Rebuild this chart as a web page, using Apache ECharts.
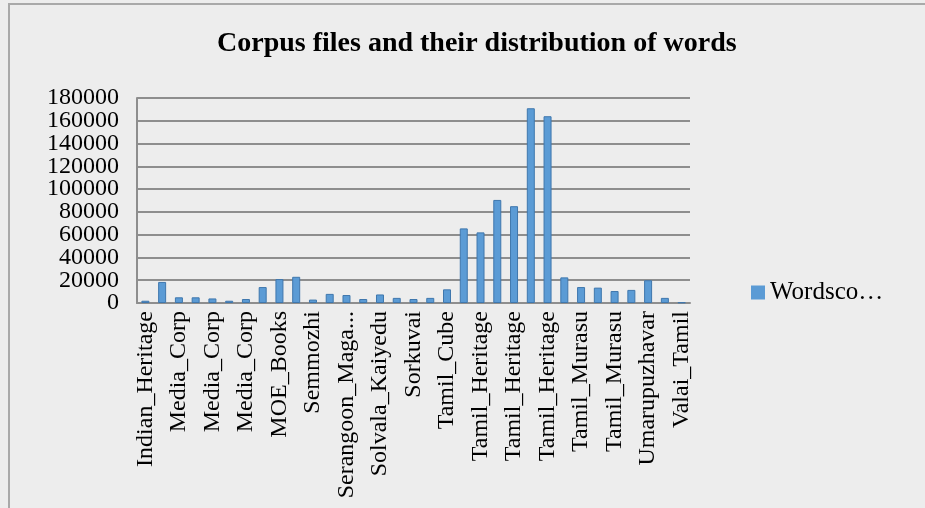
<!DOCTYPE html>
<html>
<head>
<meta charset="utf-8">
<title>Corpus files and their distribution of words</title>
<script src="https://cdn.jsdelivr.net/npm/echarts@6/dist/echarts.min.js"></script>
<style>
  html, body { margin: 0; padding: 0; background: #ededed; }
  #chart { width: 925px; height: 508px; }
  .frame {
    position: absolute; left: 8px; top: 3px; right: 0; bottom: 0;
    border-left: 2px solid #a9a9a9; border-top: 2px solid #a9a9a9;
    pointer-events: none;
  }
</style>
</head>
<body>
<div id="chart"></div>
<div class="frame"></div>
<script>
const titleText = 'Corpus files and their distribution of words'
const seriesName = 'Wordscount'

const corpusFiles = [
  'Indian_Heritage', 'Indian_Heritage', 'Media_Corp', 'Media_Corp', 'Media_Corp',
  'Media_Corp', 'Media_Corp', 'MOE_Books', 'MOE_Books', 'MOE_Books',
  'Semmozhi', 'Semmozhi', 'Serangoon_Magazine', 'Serangoon_Magazine', 'Solvala_Kaiyedu',
  'Solvala_Kaiyedu', 'Sorkuvai', 'Sorkuvai', 'Tamil_Cube', 'Tamil_Cube',
  'Tamil_Heritage', 'Tamil_Heritage', 'Tamil_Heritage', 'Tamil_Heritage', 'Tamil_Heritage',
  'Tamil_Heritage', 'Tamil_Murasu', 'Tamil_Murasu', 'Tamil_Murasu', 'Tamil_Murasu',
  'Umarupuzhavar', 'Umarupuzhavar', 'Valai_Tamil'
]

const wordCounts = [
  2000, 18500, 5000, 5000, 4000,
  2000, 3500, 14000, 21000, 23000,
  3000, 8000, 7000, 3500, 7500,
  4500, 3500, 4500, 12000, 65500,
  62000, 90500, 85000, 171000, 164000,
  22500, 14000, 13500, 10500, 11500,
  20000, 4500, 500
]

// y axis: 0 .. 180000 step 20000
const yTickLabels = ['0', '20000', '40000', '60000', '80000', '100000', '120000', '140000', '160000', '180000']
const yMin = 0
const yMax = 180000
const yStep = 20000

const chart = echarts.init(document.getElementById('chart'))

const serif = '"Liberation Serif", "DejaVu Serif", serif'

chart.setOption({
  backgroundColor: '#ededed',
  textStyle: { fontFamily: serif },
  title: {
    text: titleText,
    left: 212,
    top: 25,
    textStyle: { fontFamily: serif, fontSize: 28, fontWeight: 'bold', color: '#000' }
  },
  legend: {
    data: [seriesName],
    left: 746,
    top: 275,
    itemWidth: 14,
    itemHeight: 14,
    icon: 'rect',
    itemStyle: { borderWidth: 0 },
    formatter: (name) => name.slice(0, 7) + '…',
    textStyle: { fontFamily: serif, fontSize: 25, color: '#000' }
  },
  grid: { left: 137, right: 235, top: 98, bottom: 205, containLabel: false },
  xAxis: {
    type: 'category',
    data: corpusFiles,
    axisLine: { show: true, lineStyle: { color: '#8e8e8e', width: 2 } },
    axisTick: { show: false },
    axisLabel: {
      interval: 1,
      rotate: 90,
      margin: 8,
      color: '#000',
      fontFamily: serif,
      fontSize: 24,
      formatter: (v) => (v.length > 16 ? v.slice(0, 14) + '...' : v)
    }
  },
  yAxis: [
    {
      type: 'value',
      min: yMin,
      max: yMax,
      interval: yStep,
      axisLine: { show: true, lineStyle: { color: '#8e8e8e', width: 2 } },
      axisTick: { show: false },
      axisLabel: { show: false },
      splitLine: { lineStyle: { color: '#8e8e8e', width: 2 } }
    },
    {
      // label-only axis so every tick label stays visible
      type: 'category',
      position: 'left',
      data: yTickLabels,
      boundaryGap: false,
      axisLine: { show: false },
      axisTick: { show: false },
      splitLine: { show: false },
      axisLabel: {
        interval: 0,
        margin: 18,
        color: '#000',
        fontFamily: serif,
        fontSize: 24
      }
    }
  ],
  series: [
    {
      name: seriesName,
      type: 'bar',
      yAxisIndex: 0,
      data: wordCounts,
      barWidth: 8,
      itemStyle: { color: '#5b9bd5', borderColor: '#3f77ad', borderWidth: 1 }
    }
  ]
})
</script>
</body>
</html>
